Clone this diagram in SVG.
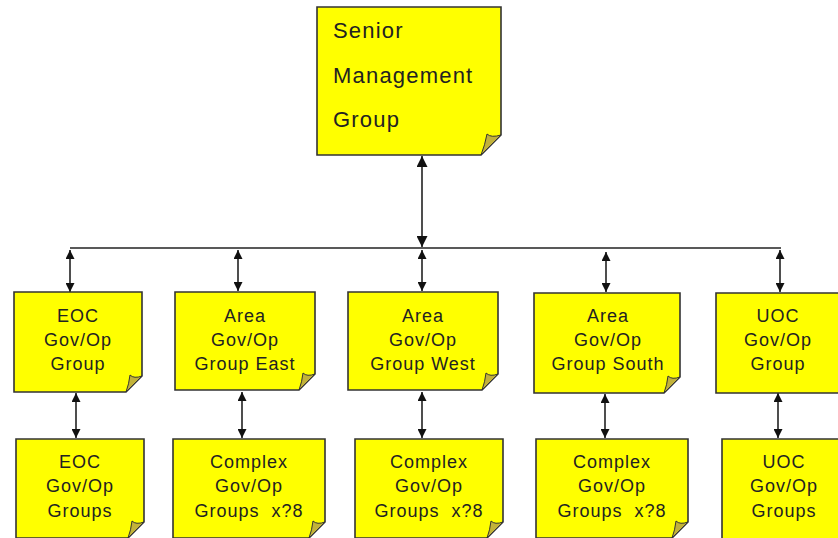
<svg xmlns="http://www.w3.org/2000/svg" width="838" height="538" viewBox="0 0 838 538">
<style>
.box{fill:#ffff00;stroke:#333;stroke-width:1.6}
.fold{fill:#c2b23a;stroke:#333;stroke-width:1}
.t{font-family:"Liberation Sans",Arial,sans-serif;font-size:18px;fill:#222;text-anchor:middle;letter-spacing:1px;white-space:pre}
.tl{font-family:"Liberation Sans",Arial,sans-serif;font-size:22px;fill:#222;letter-spacing:1.2px}
.c{stroke:#222;stroke-width:1.6;fill:none}
</style>
<defs>
<marker id="a" viewBox="0 0 10 10" refX="10" refY="5" markerWidth="9" markerHeight="9" markerUnits="userSpaceOnUse" orient="auto-start-reverse"><path d="M0,0L10,5L0,10Z" fill="#111"/></marker>
<marker id="b" viewBox="0 0 10 10" refX="10" refY="5" markerWidth="12" markerHeight="11" markerUnits="userSpaceOnUse" orient="auto-start-reverse"><path d="M0,0L10,5L0,10Z" fill="#111"/></marker>
</defs>
<rect width="838" height="538" fill="#fff"/>
<g id="connectors">
<line class="c" x1="70" y1="248" x2="781" y2="248" stroke-width="2"/>
<line class="c" x1="422" y1="156" x2="422" y2="247" marker-start="url(#b)" marker-end="url(#b)" stroke-width="1.8"/>
<line class="c" x1="70" y1="250" x2="70" y2="292" marker-start="url(#a)" marker-end="url(#a)"/>
<line class="c" x1="238" y1="250" x2="238" y2="291" marker-start="url(#a)" marker-end="url(#a)"/>
<line class="c" x1="422" y1="250" x2="422" y2="291" marker-start="url(#a)" marker-end="url(#a)"/>
<line class="c" x1="606" y1="252" x2="606" y2="292" marker-start="url(#a)" marker-end="url(#a)"/>
<line class="c" x1="780" y1="250" x2="780" y2="292" marker-start="url(#a)" marker-end="url(#a)"/>
<line class="c" x1="76" y1="393" x2="76" y2="438" marker-start="url(#a)" marker-end="url(#a)"/>
<line class="c" x1="242" y1="392" x2="242" y2="438" marker-start="url(#a)" marker-end="url(#a)"/>
<line class="c" x1="422" y1="392" x2="422" y2="438" marker-start="url(#a)" marker-end="url(#a)"/>
<line class="c" x1="605" y1="394" x2="605" y2="438" marker-start="url(#a)" marker-end="url(#a)"/>
<line class="c" x1="778" y1="393" x2="778" y2="438" marker-start="url(#a)" marker-end="url(#a)"/>
</g>
<g id="senior">
<path class="box" d="M317,7H501V135L481,155H317Z"/>
<path class="fold" d="M501,135Q491,138 487,134Q485,145 481,155Z"/>
<text class="tl" x="333" y="38">Senior</text>
<text class="tl" x="333" y="83">Management</text>
<text class="tl" x="333" y="127">Group</text>
</g>
<g id="eoc">
<path class="box" d="M14,292H142V376L126,392H14Z"/>
<path class="fold" d="M142,376Q134,379 130,375Q129,384 126,392Z"/>
<text class="t" x="78" y="322">EOC</text><text class="t" x="78" y="346">Gov/Op</text><text class="t" x="78" y="370">Group</text>
</g>
<g id="east">
<path class="box" d="M175,292H315V374L299,390H175Z"/>
<path class="fold" d="M315,374Q307,377 303,373Q302,382 299,390Z"/>
<text class="t" x="245" y="322">Area</text><text class="t" x="245" y="346">Gov/Op</text><text class="t" x="245" y="370">Group East</text>
</g>
<g id="west">
<path class="box" d="M348,292H498V374L482,390H348Z"/>
<path class="fold" d="M498,374Q490,377 486,373Q485,382 482,390Z"/>
<text class="t" x="423" y="322">Area</text><text class="t" x="423" y="346">Gov/Op</text><text class="t" x="423" y="370">Group West</text>
</g>
<g id="south">
<path class="box" d="M534,293H680V377L664,393H534Z"/>
<path class="fold" d="M680,377Q672,380 668,376Q667,385 664,393Z"/>
<text class="t" x="608" y="322">Area</text><text class="t" x="608" y="346">Gov/Op</text><text class="t" x="608" y="370">Group South</text>
</g>
<g id="uoc">
<path class="box" d="M716,293H840V393H716Z"/>
<text class="t" x="778" y="322">UOC</text><text class="t" x="778" y="346">Gov/Op</text><text class="t" x="778" y="370">Group</text>
</g>
<g id="eoc-groups">
<path class="box" d="M16,439H144V522L128,538H16Z"/>
<path class="fold" d="M144,522Q136,525 132,521Q131,530 128,538Z"/>
<text class="t" x="80" y="468">EOC</text><text class="t" x="80" y="492">Gov/Op</text><text class="t" x="80" y="517">Groups</text>
</g>
<g id="complex-east">
<path class="box" d="M173,439H325V522L309,538H173Z"/>
<path class="fold" d="M325,522Q317,525 313,521Q312,530 309,538Z"/>
<text class="t" x="249" y="468">Complex</text><text class="t" x="249" y="492">Gov/Op</text><text class="t" x="249" y="517">Groups  x?8</text>
</g>
<g id="complex-west">
<path class="box" d="M355,439H503V522L487,538H355Z"/>
<path class="fold" d="M503,522Q495,525 491,521Q490,530 487,538Z"/>
<text class="t" x="429" y="468">Complex</text><text class="t" x="429" y="492">Gov/Op</text><text class="t" x="429" y="517">Groups  x?8</text>
</g>
<g id="complex-south">
<path class="box" d="M536,439H688V522L672,538H536Z"/>
<path class="fold" d="M688,522Q680,525 676,521Q675,530 672,538Z"/>
<text class="t" x="612" y="468">Complex</text><text class="t" x="612" y="492">Gov/Op</text><text class="t" x="612" y="517">Groups  x?8</text>
</g>
<g id="uoc-groups">
<path class="box" d="M722,439H840V540H722Z"/>
<text class="t" x="784" y="468">UOC</text><text class="t" x="784" y="492">Gov/Op</text><text class="t" x="784" y="517">Groups</text>
</g>
</svg>
